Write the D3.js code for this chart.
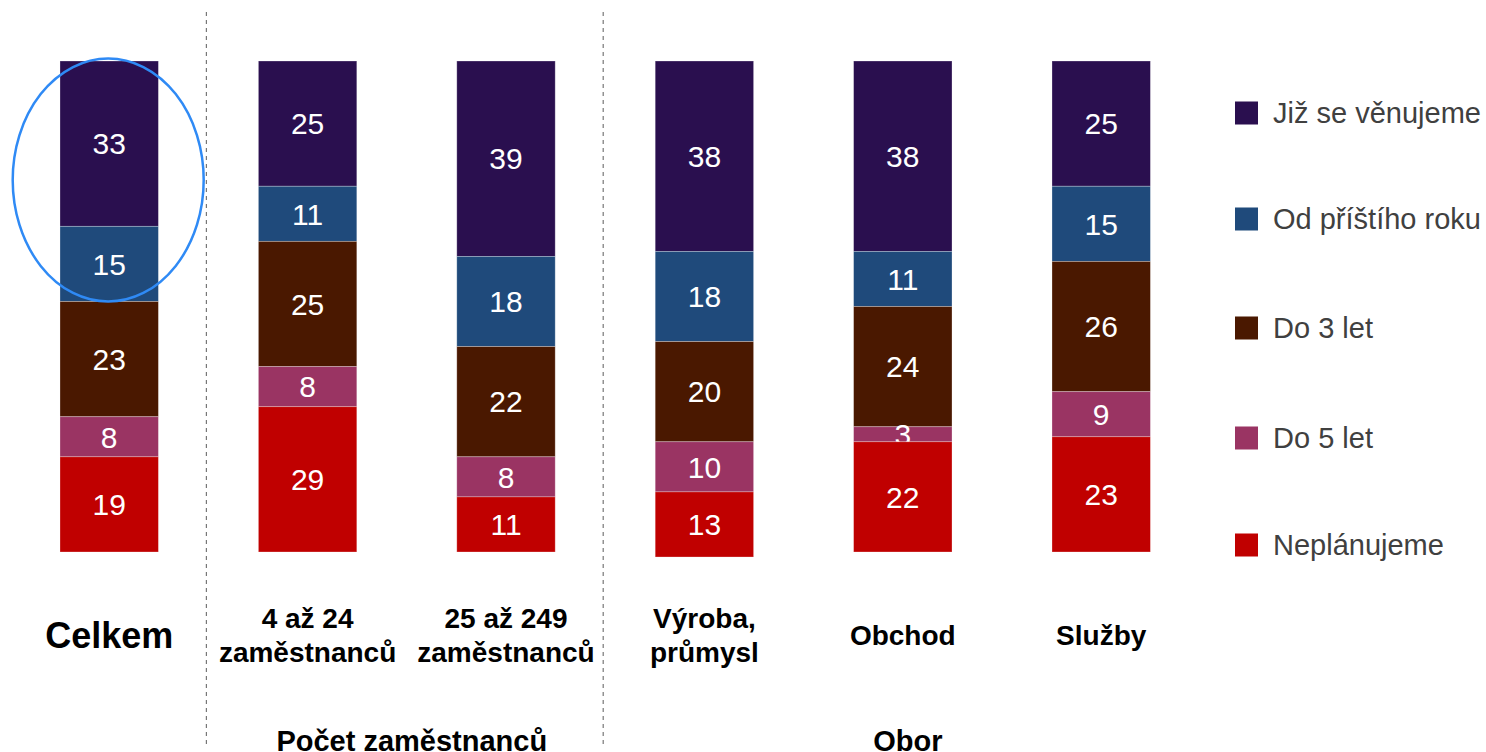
<!DOCTYPE html>
<html>
<head>
<meta charset="utf-8">
<script src="https://cdn.jsdelivr.net/npm/d3@7"></script>
<style>
  body { margin: 0; background: #fff; }
  svg { display: block; font-family: "Liberation Sans", Arial, sans-serif; }
</style>
</head>
<body>
<svg id="chart"></svg>
<script>
let width = 1486, height = 752;

// data
let categories = ["Celkem", "4 až 24 zaměstnanců", "25 až 249 zaměstnanců", "Výroba, průmysl", "Obchod", "Služby"];
let categoryLines = [["Celkem"], ["4 až 24", "zaměstnanců"], ["25 až 249", "zaměstnanců"], ["Výroba,", "průmysl"], ["Obchod"], ["Služby"]];
let seriesNames = ["Již se věnujeme", "Od příštího roku", "Do 3 let", "Do 5 let", "Neplánujeme"];
let jizSeVenujeme = [33, 25, 39, 38, 38, 25];
let odPristihoRoku = [15, 11, 18, 18, 11, 15];
let do3Let = [23, 25, 22, 20, 24, 26];
let do5Let = [8, 8, 8, 10, 3, 9];
let neplanujeme = [19, 29, 11, 13, 22, 23];
let groups = [
    {name: "Počet zaměstnanců", from: 1, to: 2},
    {name: "Obor", from: 3, to: 5}
];

let colors = ["#2a0f4f", "#1f4a7b", "#4a1800", "#9a3463", "#c00000"];
let seriesValues = [jizSeVenujeme, odPristihoRoku, do3Let, do5Let, neplanujeme];

let rows = categories.map((c, i) => {
    let r = {cat: c};
    seriesNames.forEach((s, j) => r[s] = seriesValues[j][i]);
    return r;
});

let stacked = d3.stack().keys(seriesNames)(rows);

let svg = d3.select('#chart')
    .attr('width', width)
    .attr('height', height);

let x = d3.scaleBand()
    .domain(categories)
    .range([10, 1200.4])
    .paddingInner(0.504)
    .paddingOuter(0.252);

let y = d3.scaleLinear()
    .domain([0, 98])
    .range([61, 552]);

let color = d3.scaleOrdinal().domain(seriesNames).range(colors);

// separators
[1, 3].forEach((i) => {
    let xs = (x(categories[i - 1]) + x.bandwidth() + x(categories[i])) / 2 - 2;
    svg.append('line')
        .attr('x1', xs).attr('x2', xs)
        .attr('y1', 12).attr('y2', 748)
        .attr('stroke', '#777')
        .attr('stroke-width', 1.2)
        .attr('stroke-dasharray', '4,4');
});

// bars
let layer = svg.append('g')
    .selectAll('g')
    .data(stacked)
    .enter().append('g')
    .attr('fill', (d) => color(d.key));

layer.selectAll('rect')
    .data((d) => d)
    .enter().append('rect')
    .attr('x', (d) => x(d.data.cat))
    .attr('y', (d) => y(d[0]))
    .attr('width', x.bandwidth())
    .attr('height', (d) => y(d[1]) - y(d[0]))
    .attr('stroke', 'rgba(255,255,255,0.35)')
    .attr('stroke-width', 0.8);

layer.selectAll('text')
    .data((d) => d)
    .enter().append('text')
    .attr('x', (d) => x(d.data.cat) + x.bandwidth() / 2)
    .attr('y', (d) => (y(d[0]) + y(d[1])) / 2)
    .attr('dy', '0.36em')
    .attr('text-anchor', 'middle')
    .attr('fill', '#fff')
    .attr('font-size', 30)
    .text((d) => d[1] - d[0]);

// category labels
categoryLines.forEach((lines, i) => {
    let cx = x(categories[i]) + x.bandwidth() / 2;
    let t = svg.append('text')
        .attr('text-anchor', 'middle')
        .attr('font-weight', 'bold')
        .attr('font-size', i === 0 ? 36 : 28)
        .attr('fill', '#000');
    let lh = 34;
    let y0 = 635 - (lines.length - 1) * lh / 2;
    lines.forEach((l, k) => {
        t.append('tspan')
            .attr('x', cx)
            .attr('y', y0 + k * lh)
            .attr('dy', '0.36em')
            .text(l);
    });
});

// group labels
groups.forEach((g) => {
    let gx = (x(categories[g.from]) + x(categories[g.to]) + x.bandwidth()) / 2 + 5;
    svg.append('text')
        .attr('x', gx)
        .attr('y', 751)
        .attr('text-anchor', 'middle')
        .attr('font-weight', 'bold')
        .attr('font-size', 29)
        .text(g.name);
});

// highlight ellipse
svg.append('ellipse')
    .attr('cx', x(categories[0]) + x.bandwidth() / 2 - 1)
    .attr('cy', 180)
    .attr('rx', 95.5)
    .attr('ry', 121.5)
    .attr('fill', 'none')
    .attr('stroke', '#2f8af5')
    .attr('stroke-width', 2.5);

// legend
let legendY = [113, 219, 328, 438, 545];
let legend = svg.append('g')
    .selectAll('g')
    .data(seriesNames)
    .enter().append('g')
    .attr('transform', (d, i) => 'translate(1235,' + legendY[i] + ')');

legend.append('rect')
    .attr('x', 0).attr('y', -11.5)
    .attr('width', 23).attr('height', 23)
    .attr('fill', (d) => color(d));

legend.append('text')
    .attr('x', 38)
    .attr('dy', '0.36em')
    .attr('font-size', 29)
    .attr('fill', '#404040')
    .text((d) => d);
</script>
</body>
</html>
